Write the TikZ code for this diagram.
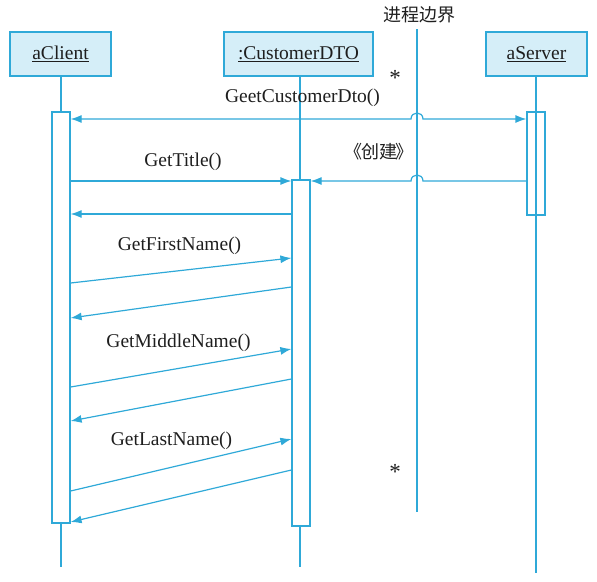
\documentclass[tikz,border=0pt]{standalone}
\usepackage{fontspec}
\setmainfont{Liberation Serif}
\newfontfamily\cjk{Noto Sans CJK SC}
\usetikzlibrary{arrows.meta}
\definecolor{ln}{HTML}{2FA9D8}
\definecolor{bx}{HTML}{D5EEF8}
\definecolor{tx}{HTML}{1E1E1E}
\begin{document}
\begin{tikzpicture}[x=1pt,y=-1pt,
  tip/.tip={Latex[length=11pt,width=8pt]},
  obj/.style={draw=ln, fill=bx, line width=1.2pt, minimum height=44pt, inner sep=0pt, font=\fontsize{19.5}{22}\selectfont, text=tx},
  act/.style={draw=ln, fill=white, line width=1.2pt, minimum width=18pt, inner sep=0pt},
  life/.style={draw=ln, line width=1.2pt},
  msg/.style={draw=ln, line width=1.2pt, -tip},
  lbl/.style={font=\fontsize{19.5}{22}\selectfont, text=tx, inner sep=0pt, anchor=base},
  cjklbl/.style={font=\cjk\fontsize{18}{22}\selectfont, text=tx, inner sep=0pt}]
\useasboundingbox (0,0) rectangle (597,581);
% objects
\node[obj, minimum width=101pt] (cli) at (60.5,54) {\underline{aClient}};
\node[obj, minimum width=149pt] (dto) at (298.5,54) {\underline{:CustomerDTO}};
\node[obj, minimum width=101pt] (srv) at (536.5,54) {\underline{aServer}};
% lifeline ends
\coordinate (cliend) at (61,567);
\coordinate (dtoend) at (300,567);
\coordinate (srvend) at (536,573);
\coordinate (pbtop) at (417,29);
\coordinate (pbbot) at (417,512);
% lifelines
\draw[life] (cli.south -| cliend) -- (cliend);
\draw[life] (dto.south -| dtoend) -- (dtoend);
% activations
\node[act, minimum height=411pt] (cliact) at (61,317.5) {};
\node[act, minimum height=346pt] (dtoact) at (301,353) {};
\node[act, fill=none, minimum height=103pt] (srvact) at (536,163.5) {};
\draw[life] (srv.south -| srvend) -- (srvend);
% process boundary
\draw[life] (pbtop) -- (pbbot);
\node[cjklbl] (pb) at (419,15) {进程边界};
% messages
\draw[draw=ln, line width=1.2pt, tip-tip]
  (cliact.east |- 0,119) -- (411,119) .. controls (411,111) and (423,111) .. (423,119) -- (srvact.west |- 0,119);
\node[lbl] (m1) at (302.5,102) {GeetCustomerDto()};
\draw[msg] (cliact.east |- 0,181) -- (dtoact.west |- 0,181);
\node[lbl] (m2) at (183,166) {GetTitle()};
\draw[msg] (srvact.west |- 0,181) -- (423,181) .. controls (423,173) and (411,173) .. (411,181) -- (dtoact.east |- 0,181);
\node[cjklbl] (m3) at (379,152) {《\kern-.08em 创建\kern-.08em 》};
\draw[msg] (dtoact.west |- 0,214) -- (cliact.east |- 0,214);
\draw[msg] (cliact.east |- 0,283) -- (dtoact.west |- 0,258);
\node[lbl] (m4) at (179.5,250) {GetFirstName()};
\draw[msg] (dtoact.west |- 0,287) -- (cliact.east |- 0,318);
\draw[msg] (cliact.east |- 0,387) -- (dtoact.west |- 0,349);
\node[lbl] (m5) at (178.5,347) {GetMiddleName()};
\draw[msg] (dtoact.west |- 0,379) -- (cliact.east |- 0,421);
\draw[msg] (cliact.east |- 0,491) -- (dtoact.west |- 0,439);
\node[lbl] (m6) at (171.5,445) {GetLastName()};
\draw[msg] (dtoact.west |- 0,470) -- (cliact.east |- 0,522);
% multiplicities
\node[lbl, font=\fontsize{23}{24}\selectfont] (s1) at (395,85) {*};
\node[lbl, font=\fontsize{23}{24}\selectfont] (s2) at (395,479) {*};
\end{tikzpicture}
\end{document}
